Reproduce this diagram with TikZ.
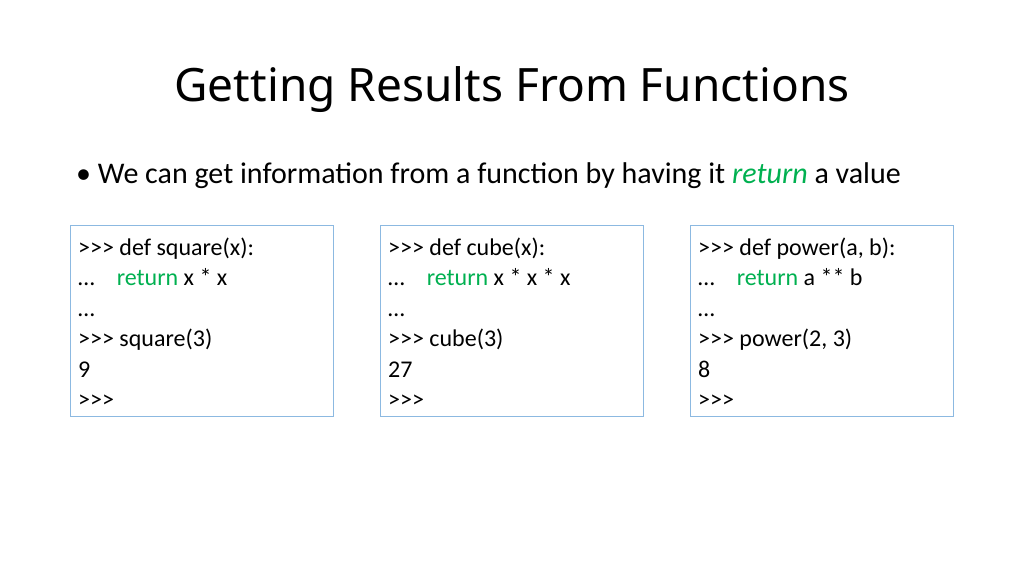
\documentclass[tikz,border=0pt]{standalone}
\usepackage{fontspec}
\setmainfont{Carlito}
\newfontfamily\titlefont{Noto Sans}
\definecolor{kwgreen}{RGB}{0,176,80}
\definecolor{boxblue}{RGB}{140,185,225}
\tikzset{
  codebox/.style={draw=boxblue, line width=0.8pt, minimum width=263pt, minimum height=191pt, anchor=north west},
  codeline/.style={anchor=base west, inner sep=0pt, font=\fontsize{24}{24}\selectfont}
}
\newcommand{\kw}[1]{\textcolor{kwgreen}{#1}}
\begin{document}
\begin{tikzpicture}[x=1pt,y=-1pt]
  \useasboundingbox (0,0) rectangle (1024,575);
  \node[anchor=base, inner sep=0pt, font=\titlefont\fontsize{46}{46}\selectfont] (title) at (512,102) {Getting Results From Functions};
  \node[anchor=base west, inner sep=0pt, font=\fontsize{30}{30}\selectfont] (bullet) at (76,183) {\textbullet\ We can get information from a function by having it \kw{\textit{return}} a value};
  % code boxes
  \foreach \bx/\name in {70/sq, 380/cu, 690/pw}
    \node[codebox] (\name) at (\bx,225) {};
  \foreach \bx/\a/\b/\c/\d in {78/{def square(x):}/{x * x}/{square(3)}/9,
                               388/{def cube(x):}/{x * x * x}/{cube(3)}/27,
                               698/{def power(a, b):}/{a ** b}/{power(2, 3)}/8} {
    \node[codeline] at (\bx,255) {>\kern0pt>\kern0pt> \a};
    \node[codeline] at (\bx,285) {…\hspace{22pt}\kw{return} \b};
    \node[codeline] at (\bx,316) {…};
    \node[codeline] at (\bx,346) {>\kern0pt>\kern0pt> \c};
    \node[codeline] at (\bx,377) {\d};
    \node[codeline] at (\bx,407) {>\kern0pt>\kern0pt>};
  }
\end{tikzpicture}
\end{document}
